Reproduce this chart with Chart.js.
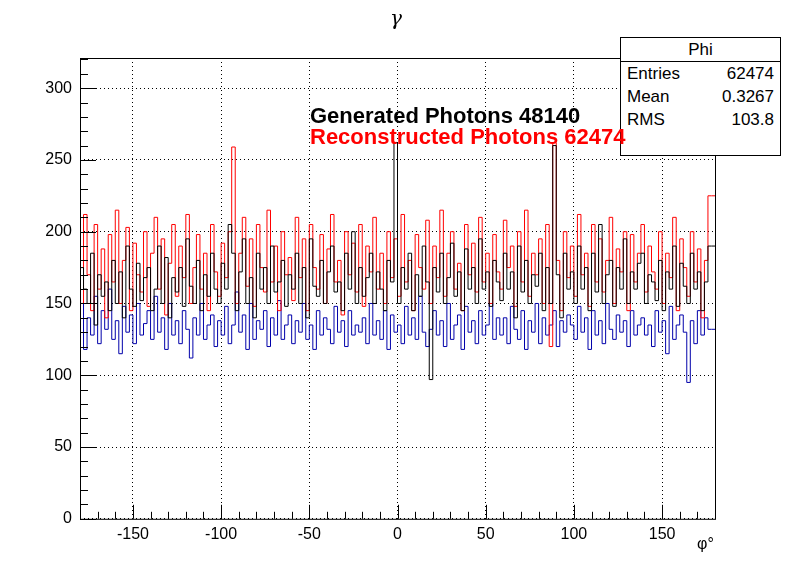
<!DOCTYPE html>
<html><head><meta charset="utf-8">
<script src="https://cdn.jsdelivr.net/npm/chart.js@4/dist/chart.umd.min.js"></script>
<style>
body{margin:0;background:#fff;font-family:"Liberation Sans",Arial,sans-serif}
#wrap{position:relative;width:796px;height:572px}
canvas{position:absolute;left:0;top:0}
.t{position:absolute;white-space:nowrap}
#stats{position:absolute;left:620px;top:37px;width:159px;height:117px;border:1px solid #000;background:#fff;font-size:17px}
#stats .h{text-align:center;border-bottom:1px solid #000;height:23px;line-height:23px}
#stats .r{display:flex;justify-content:space-between;padding:0 6px;height:23px;line-height:23px}
</style></head><body>
<div id="wrap">
<canvas id="c" width="796" height="572"></canvas>
<div class="t" style="left:390px;top:6px;font-size:20px;font-family:'DejaVu Serif',serif;font-style:italic">γ</div>
<div id="stats">
<div class="h">Phi</div>
<div class="r"><span>Entries</span><span>62474</span></div>
<div class="r"><span>Mean</span><span>0.3267</span></div>
<div class="r"><span>RMS</span><span>103.8</span></div>
</div>
<div class="t" style="left:310px;top:103px;font-size:22px;font-weight:bold">Generated Photons 48140</div>
<div class="t" style="left:310px;top:124px;font-size:22px;font-weight:bold;color:#ff0000">Reconstructed Photons 62474</div>
<div class="t" style="left:697px;top:535px;font-size:16px">φ°</div>
</div>
<script>
// 2-degree bins from -180 to 180
const xMin = -180, xMax = 180, binWidth = 2;

const reconstructed = [
190,150,212,170,145,205,160,188,140,198,165,215,150,180,203,145,192,170,158,200,
148,185,210,160,195,142,178,205,155,190,168,212,150,175,198,160,185,145,205,172,
155,192,168,200,259,150,185,210,162,195,148,205,175,158,215,165,190,145,200,170,
182,152,210,168,195,145,205,175,160,198,150,188,212,165,180,142,200,170,192,158,
205,148,190,172,210,160,185,150,200,168,195,155,212,165,180,145,198,175,160,208,
150,190,168,215,155,185,200,160,178,145,205,170,192,158,210,165,185,150,198,172,
160,208,175,190,148,200,165,215,155,185,170,195,150,205,120,262,180,145,200,168,
190,155,212,170,185,148,205,165,195,158,180,210,150,188,172,200,145,198,165,185,
205,158,190,172,160,200,150,185,168,210,145,195,175,155,200,165,188,140,180,225];

const generated = [
140,175,160,150,185,135,170,155,165,145,180,150,172,140,190,160,148,178,152,168,
175,145,160,190,150,182,140,168,158,175,148,195,162,150,180,145,170,155,185,160,
150,178,160,205,185,145,172,195,150,168,140,185,160,175,150,190,158,165,180,148,
170,160,185,150,175,140,195,162,155,180,150,172,190,158,165,145,185,160,200,150,
175,155,168,185,150,172,160,145,180,165,262,150,175,160,185,145,170,155,190,165,
97,175,158,185,150,168,192,155,172,145,188,160,175,150,195,160,172,148,180,165,
152,185,160,172,140,190,158,180,150,170,162,185,145,175,150,260,170,140,185,160,
172,150,190,160,175,145,185,158,205,150,170,180,148,175,160,195,150,172,160,178,
185,150,170,165,152,180,145,172,160,190,148,178,162,150,185,160,172,145,165,190];

const matched = [
135,150,118,140,128,155,122,145,132,160,125,138,115,148,130,142,122,150,128,136,
145,125,155,130,140,118,150,128,138,122,145,132,112,140,128,150,125,135,142,120,
138,128,148,122,135,158,130,142,118,150,125,138,132,145,120,140,128,152,125,135,
142,122,138,130,150,125,135,118,145,128,140,132,122,148,130,138,120,145,128,135,
130,140,122,150,128,138,125,145,118,142,130,135,122,148,128,140,125,155,130,120,
132,145,128,138,120,150,125,135,142,118,148,130,138,122,145,128,135,150,125,140,
128,140,122,148,132,125,145,118,138,130,150,122,140,128,135,145,120,138,130,142,
135,125,148,130,140,118,145,128,138,122,150,132,125,142,130,138,120,145,128,135,
140,128,135,120,145,130,138,115,148,125,135,142,130,95,138,122,145,128,140,132];

const xTicks = [-150,-100,-50,0,50,100,150];
const yTicks = [0,50,100,150,200,250,300];

function toSteps(vals) {
  const pts = vals.map((v, i) => ({x: xMin + i * binWidth, y: v}));
  pts.push({x: xMax, y: vals[vals.length - 1]});
  return pts;
}

function ds(vals, color) {
  return {data: toSteps(vals), borderColor: color, borderWidth: 1, stepped: 'after',
          pointRadius: 0, fill: false};
}

// ROOT-style minor ticks and frame
const frame = {
  id: 'frame',
  afterDraw(chart) {
    const {ctx, chartArea: a, scales: {x, y}} = chart;
    ctx.save();
    ctx.strokeStyle = '#000'; ctx.lineWidth = 1;
    ctx.strokeRect(a.left + 0.5, a.top + 0.5, a.right - a.left, a.bottom - a.top);
    ctx.beginPath();
    for (let v = -180; v <= 180; v += 10) {
      const px = Math.round(x.getPixelForValue(v)) + 0.5;
      const len = v % 50 === 0 ? 14 : 7;
      ctx.moveTo(px, a.bottom); ctx.lineTo(px, a.bottom - len);
    }
    for (let v = 0; v <= 320; v += 10) {
      const py = Math.round(y.getPixelForValue(v)) + 0.5;
      const len = v % 50 === 0 ? 16 : 8;
      ctx.moveTo(a.left, py); ctx.lineTo(a.left + len, py);
    }
    ctx.stroke();
    ctx.restore();
  }
};

new Chart(document.getElementById('c'), {
  type: 'line',
  data: {datasets: [ds(generated, '#000000'), ds(reconstructed, '#ff0000'), ds(matched, '#0000aa')]},
  options: {
    responsive: false, animation: false,
    layout: {padding: {left: 0, right: 81, top: 58, bottom: 22}},
    plugins: {legend: {display: false}, tooltip: {enabled: false}},
    scales: {
      x: {type: 'linear', min: xMin, max: xMax,
          afterBuildTicks: s => { s.ticks = xTicks.map(v => ({value: v})); },
          grid: {color: '#000', lineWidth: 1, drawTicks: false},
          border: {display: false, dash: [1, 3]},
          ticks: {color: '#000', font: {size: 16, family: 'Liberation Sans'}, padding: 6, maxRotation: 0}},
      y: {min: 0, max: 321,
          afterBuildTicks: s => { s.ticks = yTicks.map(v => ({value: v})); },
          afterFit: s => { s.width = 80; },
          grid: {color: '#000', lineWidth: 1, drawTicks: false},
          border: {display: false, dash: [1, 3]},
          ticks: {color: '#000', font: {size: 16, family: 'Liberation Sans'}, padding: 8}}
    }
  },
  plugins: [frame]
});
</script>
</body></html>
